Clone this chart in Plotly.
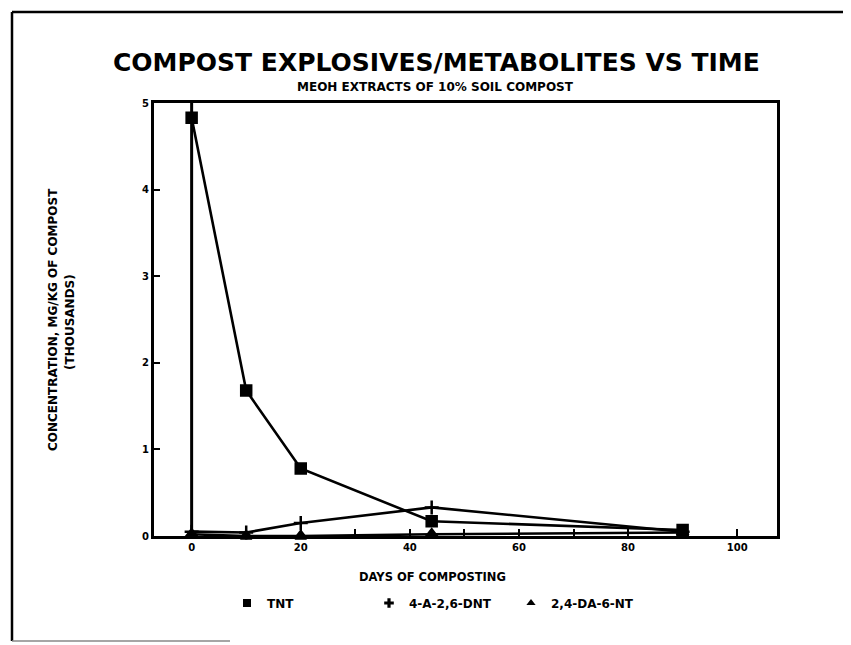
import plotly.graph_objects as go

# ---- data ----
days = [0, 10, 20, 44, 90]
tnt = [4.83, 1.68, 0.78, 0.17, 0.07]
a_dnt = [0.05, 0.04, 0.15, 0.33, 0.05]
da_nt = [0.02, 0.0, 0.0, 0.02, 0.04]
series_names = ["TNT", "4-A-2,6-DNT", "2,4-DA-6-NT"]
x_tickvals = [0, 10, 20, 30, 40, 50, 60, 70, 80, 90, 100]
x_ticktext = ["0", "", "20", "", "40", "", "60", "", "80", "", "100"]
y_tickvals = [0, 1, 2, 3, 4, 5]

W, H = 851, 645
OFF = 8  # page body margin
# plot box in page pixels
PL, PR, PT, PB = 154, 777, 103, 536
L, T = PL - OFF, PT - OFF
R, B = W - (PR - OFF), H - (PB - OFF)
pw, ph = W - L - R, H - T - B

def px(xp):
    return (xp - OFF - L) / pw

def py(yp):
    return (PB - yp) / ph

FONT = "DejaVu Sans"
fig = go.Figure()

symbols = ["square", "cross-thin", "triangle-up"]
for vals, name, sym in zip([tnt, a_dnt, da_nt], series_names, symbols):
    fig.add_trace(go.Scatter(
        x=days, y=vals, mode="lines+markers", name=name, showlegend=False,
        line=dict(color="black", width=2.6),
        marker=dict(symbol=sym, size=10, color="black",
                    line=dict(color="black", width=2.5)),
        cliponaxis=False,
    ))

# legend-only markers
leg_syms = ["square", "cross", "triangle-up"]
for name, sym in zip(series_names, leg_syms):
    fig.add_trace(go.Scatter(
        x=[None], y=[None], mode="markers", name=name,
        marker=dict(symbol=sym, size=8, color="black"),
    ))

shapes = [
    # vertical line at day 0
    dict(type="line", xref="x", yref="paper", x0=0, x1=0, y0=0, y1=1,
         line=dict(color="black", width=3)),
    # page border
    dict(type="line", xref="paper", yref="paper", x0=px(12), x1=px(851),
         y0=py(12), y1=py(12), line=dict(color="black", width=2.5)),
    dict(type="line", xref="paper", yref="paper", x0=px(12), x1=px(12),
         y0=py(12), y1=py(641), line=dict(color="black", width=2.5)),
    dict(type="line", xref="paper", yref="paper", x0=px(12), x1=px(230),
         y0=py(641), y1=py(641), line=dict(color="#888888", width=1.5)),
]

annotations = [
    dict(text="<b>COMPOST EXPLOSIVES/METABOLITES VS TIME</b>", xref="paper", yref="paper",
         x=px(436), y=py(63), showarrow=False, xanchor="center", yanchor="middle",
         font=dict(family=FONT, size=25, color="black")),
    dict(text="<b>MEOH EXTRACTS OF 10% SOIL COMPOST</b>", xref="paper", yref="paper",
         x=px(435), y=py(87), showarrow=False, xanchor="center", yanchor="middle",
         font=dict(family=FONT, size=12, color="black")),
    dict(text="<b>DAYS OF COMPOSTING</b>", xref="paper", yref="paper",
         x=px(432), y=py(577), showarrow=False, xanchor="center", yanchor="middle",
         font=dict(family=FONT, size=11.5, color="black")),
    dict(text="<b>CONCENTRATION, MG/KG OF COMPOST</b>", xref="paper", yref="paper",
         x=px(53), y=py(320), showarrow=False, textangle=-90, xanchor="center", yanchor="middle",
         font=dict(family=FONT, size=12, color="black")),
    dict(text="<b>(THOUSANDS)</b>", xref="paper", yref="paper",
         x=px(70), y=py(322), showarrow=False, textangle=-90, xanchor="center", yanchor="middle",
         font=dict(family=FONT, size=12, color="black")),
]

fig.update_layout(
    width=W, height=H,
    margin=dict(l=L, r=R, t=T, b=B),
    paper_bgcolor="white", plot_bgcolor="white",
    font=dict(family=FONT, color="black"),
    shapes=shapes, annotations=annotations,
    legend=dict(orientation="h", x=px(227), y=py(603), xanchor="left", yanchor="middle",
                font=dict(family=FONT, size=12, color="black", weight="bold"),
                entrywidth=97, bgcolor="rgba(0,0,0,0)", itemwidth=30),
    xaxis=dict(range=[-6.9, 107.3], showgrid=False, zeroline=False,
               showline=True, mirror=True, linewidth=3, linecolor="black",
               ticks="inside", ticklen=7, tickwidth=2, tickcolor="black",
               tickvals=x_tickvals, ticktext=x_ticktext,
               tickfont=dict(family=FONT, size=10, color="black", weight="bold")),
    yaxis=dict(range=[0, 5], showgrid=False, zeroline=False,
               showline=True, mirror=True, linewidth=3, linecolor="black",
               ticks="inside", ticklen=6, tickwidth=2, tickcolor="black",
               tickvals=y_tickvals,
               tickfont=dict(family=FONT, size=10, color="black", weight="bold")),
)

fig.write_html("out.html")
